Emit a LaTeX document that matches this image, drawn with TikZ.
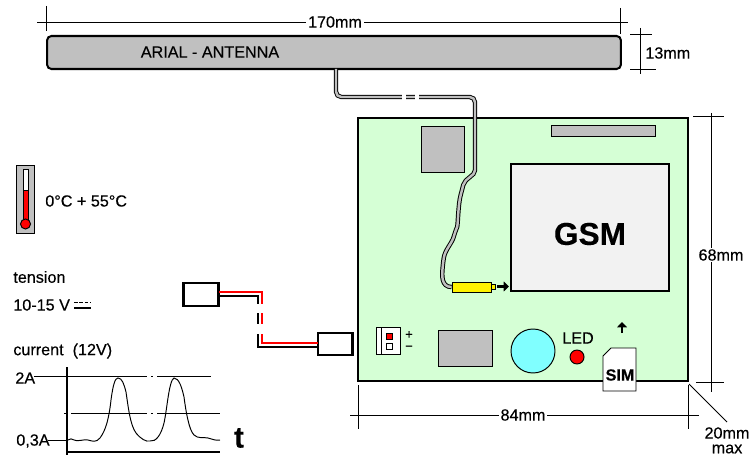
\documentclass[tikz,border=0pt]{standalone}
\usepackage{fontspec}
\setmainfont{Liberation Sans}[RawFeature={embolden=0.3}]
\usepackage{xcolor}
\usetikzlibrary{arrows.meta,shapes}
\definecolor{boardgreen}{HTML}{D5FFD5}
\definecolor{partgray}{HTML}{C0C0C0}
\definecolor{gsmgray}{HTML}{F2F2F2}
\definecolor{aquablue}{HTML}{80FFFF}
\tikzstyle{thinline}=[line width=.55pt]
\tikzstyle{heavyline}=[line width=1.15pt]
\tikzstyle{grayshading}=[fill=partgray]
\tikzstyle{antennabar}=[draw,heavyline,grayshading,rounded corners=2.5pt,minimum width=11.48cm,minimum height=.66cm,inner sep=0pt]
\tikzstyle{boardbox}=[draw,heavyline,fill=boardgreen,minimum width=6.6cm,minimum height=5.26cm,inner sep=0pt]
\tikzstyle{gsmbox}=[draw,heavyline,fill=gsmgray,minimum width=3.16cm,minimum height=2.54cm,inner sep=0pt]
\tikzstyle{plugbox}=[draw,heavyline,fill=white,minimum width=.7cm,minimum height=.45cm,inner sep=0pt]
\tikzstyle{cablewire}=[draw=black,line width=.55pt,double=partgray,double distance=1.4pt]
\tikzstyle{label}=[font=\fontsize{9.2}{10}\selectfont,inner sep=0pt]
\tikzstyle{gaplabel}=[label,fill=white,inner xsep=1pt,inner ysep=1pt]
\tikzstyle{blockarrow}=[line width=1.5pt,-{Triangle[length=3pt,width=5.5pt]}]

\begin{document}
\begin{tikzpicture}[x=.02cm,y=-.02cm]
	\useasboundingbox (0,0) rectangle (749,455);
	\fill[white] (0,0) rectangle (749,455);
%	dimension lines
	\draw[thinline] (37,22) -- (628,22);
	\draw[thinline] (46,6) -- (46,31);
	\draw[thinline] (620,8) -- (620,34);
	\node[gaplabel] (widthlabel) at (335,22) {170mm};
	\draw[thinline] (640,28) -- (640,74);
	\draw[thinline] (630,34) -- (652,34);
	\draw[thinline] (630,69) -- (656,69);
	\node[label,anchor=west] (heightlabel) at (645,53) {13mm};
	\draw[thinline] (711,113) -- (711,392);
	\draw[thinline] (693,116) -- (724,116);
	\draw[thinline] (696,382) -- (724,382);
	\node[gaplabel] (boardhlabel) at (721,255) {68mm};
	\draw[thinline] (350,415) -- (699,415);
	\draw[thinline] (358,385) -- (358,429);
	\draw[thinline] (688,385) -- (688,429);
	\node[gaplabel] (boardwlabel) at (523,415) {84mm};
	\draw[thinline] (689,384) -- (727,422);
	\node[label] (depthlabel) at (727,433) {20mm};
	\node[label] (maxlabel) at (727,449) {max};
%	antenna
	\node[antennabar] (antenna) at (334,52.5) {};
	\node[label] (antennalabel) at (210,52) {ARIAL - ANTENNA};
%	board
	\node[boardbox] (board) at (523,249.5) {};
	\draw[thinline,grayshading] (421,126) rectangle (464,172);
	\draw[thinline,grayshading] (551,125) rectangle (655,136);
	\node[gsmbox] (gsm) at (590,227.5) {};
	\node[font=\fontsize{18}{20}\selectfont\bfseries,inner sep=0pt] (gsmlabel) at (590,234) {GSM};
%	antenna cable
	\node[draw,thinline,fill=yellow,minimum width=.78cm,minimum height=.2cm,inner sep=0pt] (sma) at (471.5,287) {};
	\node[draw,thinline,fill=yellow,anchor=west,minimum width=.08cm,minimum height=.1cm,inner sep=0pt] (smatip) at (sma.east) {};
	\coordinate (cabletop) at (336,69);
	\draw[cablewire,rounded corners=3pt] (cabletop) -- (336,97) -- (475,97) -- (475,165)
		.. controls (475,176) and (465,178) .. (462,190)
		.. controls (458,205) and (458,225) .. (455,232)
		.. controls (452,243) and (445,250) .. (443,263)
		.. controls (442,275) and (441,287) .. (sma.west);
	\fill[white] (402,94) rectangle (406,100);
	\fill[white] (415,94) rectangle (419,100);
	\coordinate (smaarrow) at (497,286.5);
	\draw[blockarrow] (smaarrow) -- (509,286.5);
%	lower parts of the board
	\draw[thinline,fill=white] (376,327) rectangle (400,354);
	\draw[thinline] (381,327) -- (381,354);
	\draw[thinline,fill=red] (386,333) rectangle (392,339);
	\draw[thinline,fill=white] (386,343) rectangle (392,349);
	\node[font=\fontsize{7.5}{8}\selectfont,inner sep=0pt] (pluslabel) at (409,335) {+};
	\node[font=\fontsize{7.5}{8}\selectfont,inner sep=0pt] (minuslabel) at (409,348) {\textminus};
	\draw[thinline,grayshading] (438,330) rectangle (492,366);
	\draw[thinline,fill=aquablue] (533,351) circle (22);
	\node[label] (ledlabel) at (578,338) {LED};
	\draw[thinline,fill=red] (577,357) circle (7);
	\coordinate (simarrow) at (622,333);
	\draw[blockarrow] (simarrow) -- (622,322);
	\draw[thinline,fill=white] (603,356) -- (611,348) -- (636,348) -- (636,391) -- (603,391) -- cycle;
	\node[font=\fontsize{9.2}{10}\selectfont\bfseries,inner sep=0pt] (simlabel) at (620,375) {SIM};
%	supply lead
	\node[plugbox] (plugin) at (201,294.5) {};
	\node[plugbox] (plugout) at (335,344) {};
	\coordinate (redin) at (219,292);
	\coordinate (blackin) at (219,296);
	\coordinate (redout) at (318,343);
	\coordinate (blackout) at (318,347);
	\draw[heavyline,red] (redin) -- (262,292) -- (262,343) -- (redout);
	\draw[heavyline] (blackin) -- (258,296) -- (258,347) -- (blackout);
	\fill[white] (255,304) rectangle (265,313);
	\fill[white] (255,324) rectangle (265,334);
%	thermometer
	\draw[thinline,grayshading] (16,165) rectangle (34,233);
	\draw[thinline,fill=white] (23,169) rectangle (28,222);
	\draw[thinline,fill=red] (23,190) rectangle (28,222);
	\draw[thinline,fill=red] (25.5,224) circle (5);
	\node[label,anchor=west] (templabel) at (45,201) {0°C + 55°C};
%	supply values
	\node[label,anchor=west] (tensionlabel) at (13,277) {tension};
	\node[label,anchor=west] (voltlabel) at (13,305) {10-15 V};
	\draw[thinline,dash pattern=on 2.2pt off .8pt] (74,302) -- (91,302);
	\draw[heavyline] (74,308) -- (91,308);
	\node[label,anchor=west] (currentlabel) at (13,351) {current\ \ (12V)};
%	current graph
	\node[label,anchor=west] (highlabel) at (15,378) {2A};
	\node[label,anchor=west] (lowlabel) at (16,441) {0,3A};
	\draw[thinline] (34,376) -- (147,376) (151,376) -- (153,376) (157,376) -- (211,376);
	\draw[thinline] (64,413) -- (67,413) (71,413) -- (147,413) (151,413) -- (153,413) (157,413) -- (220,413);
	\draw[thinline] (48,440) -- (67,440);
	\draw[thinline] (68,440) .. controls (70,438) and (72,439) .. (74,440)
		.. controls (77,442) and (84,439) .. (88,440)
		.. controls (92,441) and (96,443) .. (100,438)
		.. controls (106,430) and (109,418) .. (111,400)
		.. controls (113,385) and (115,378) .. (118,378)
		.. controls (122,378) and (124,384) .. (126,392)
		.. controls (128,405) and (130,425) .. (136,433)
		.. controls (141,439) and (146,442) .. (150,441)
		.. controls (156,442) and (161,435) .. (164,423)
		.. controls (167,410) and (169,380) .. (174,378)
		.. controls (179,378) and (182,388) .. (184,397)
		.. controls (186,412) and (189,430) .. (194,435)
		.. controls (198,439) and (204,437) .. (208,438)
		.. controls (212,439) and (216,441) .. (220,440);
	\draw[line width=1pt] (67,367) -- (67,455);
	\draw[line width=1.2pt] (67,452) -- (220,452);
	\node[font=\fontsize{17}{18}\selectfont\bfseries,inner sep=0pt] (timelabel) at (239,438) {t};
\end{tikzpicture}
\end{document}
